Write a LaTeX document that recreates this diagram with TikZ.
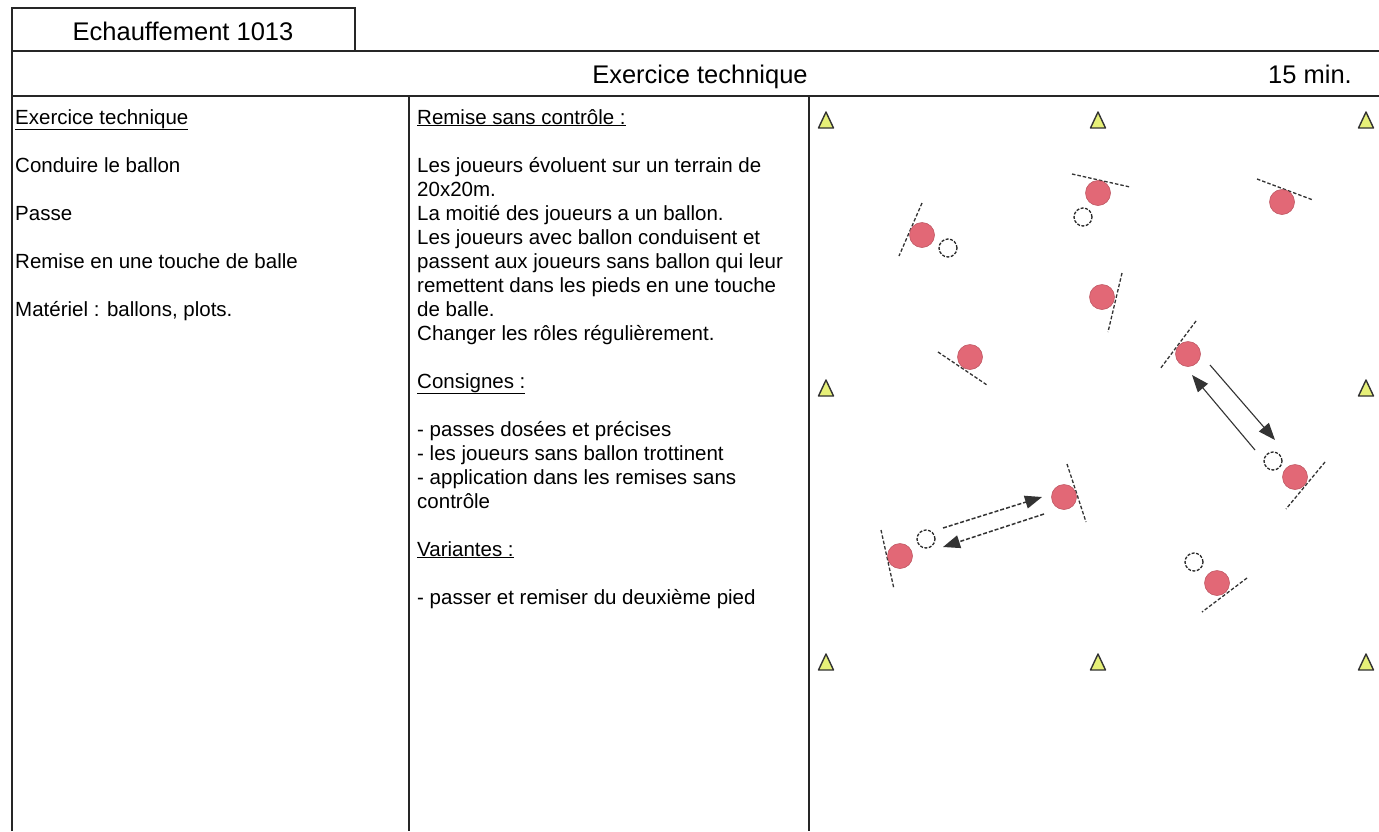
\documentclass[tikz,border=0pt]{standalone}
\usepackage{fontspec}
\setmainfont{Liberation Sans}
\usetikzlibrary{arrows.meta}

\definecolor{plrred}{RGB}{226,104,118}
\definecolor{coneyel}{RGB}{230,240,120}

\tikzset{
  frame/.style={line width=1.8pt,black!85},
  player/.style={circle,fill=plrred,draw=plrred!85!black,line width=0.6pt,minimum size=25pt,inner sep=0pt},
  ball/.style={circle,draw=black!85,dash pattern=on 3pt off 1.5pt,line width=1.3pt,fill=white,minimum size=18pt,inner sep=0pt},
  facing/.style={black!80,line width=1.3pt,dash pattern=on 3.5pt off 2pt},
  passdash/.style={black!80,line width=1.5pt,dash pattern=on 4pt off 2pt,-{Triangle[length=17pt,width=13pt]}},
  passline/.style={black!80,line width=1.1pt,-{Triangle[length=17pt,width=13pt]}},
  cone/.style={fill=coneyel,draw=black!80,line width=1.4pt,line join=round},
  txt/.style={anchor=base west,inner sep=0pt,font=\fontsize{20.5}{24}\selectfont},
  head/.style={inner sep=0pt,font=\fontsize{25.5}{30}\selectfont},
}

\begin{document}
\begin{tikzpicture}[x=1pt,y=-1pt]
\useasboundingbox (0,0) rectangle (1379,831);
\fill[white] (0,0) rectangle (1379,831);

% form frame
\draw[frame] (12,831) -- (12,8) -- (355,8) -- (355,51);
\draw[frame] (12,51) -- (1379,51);
\draw[frame] (12,96) -- (1379,96);
\draw[frame] (409,96) -- (409,831);
\draw[frame] (809,96) -- (809,831);

% header
\node[head,anchor=base] (title) at (183,40) {Echauffement 1013};
\node[head,anchor=base] (theme) at (700,83) {Exercice technique};
\node[head,anchor=base east] (dur) at (1352,83) {15 min.};

% left column
\foreach \n/\t in {1/{\underline{Exercice technique}},3/{Conduire le ballon},5/{Passe},
    7/{Remise en une touche de balle},9/{Matériel : ballons, plots.}}
  \node[txt] (l\n) at (15,{124+(\n-1)*24}) {\t};

% middle column
\foreach \n/\t in {1/{\underline{Remise sans contrôle :}},
    3/{Les joueurs évoluent sur un terrain de},4/{20x20m.},
    5/{La moitié des joueurs a un ballon.},6/{Les joueurs avec ballon conduisent et},
    7/{passent aux joueurs sans ballon qui leur},8/{remettent dans les pieds en une touche},
    9/{de balle.},10/{Changer les rôles régulièrement.},
    12/{\underline{Consignes :}},
    14/{- passes dosées et précises},15/{- les joueurs sans ballon trottinent},
    16/{- application dans les remises sans},17/{contrôle},
    19/{\underline{Variantes :}},
    21/{- passer et remiser du deuxième pied}}
  \node[txt] (m\n) at (417,{124+(\n-1)*24}) {\t};

% cones
\foreach \x/\y in {826/121,1098/121,1366/121,826/389,1366/389,826/663,1098/663,1366/663}
  \draw[cone] (\x-7.5,\y+7) -- (\x+7.5,\y+7) -- (\x,\y-9) -- cycle;

% facing lines
\draw[facing] (922,203) -- (899,256);
\draw[facing] (1072,174) -- (1130,187);
\draw[facing] (1257,179) -- (1313,200);
\draw[facing] (1122,273) -- (1108,332);
\draw[facing] (938,352) -- (987,385);
\draw[facing] (1196,321) -- (1160,369);
\draw[facing] (1325,462) -- (1286,509);
\draw[facing] (1247,578) -- (1202,612);
\draw[facing] (1067,464) -- (1086,522);
\draw[facing] (881,530) -- (894,589);

% players and balls
\node[player] (p1) at (922,235) {};
\node[player] (p2) at (1098,193) {};
\node[player] (p3) at (1282,202) {};
\node[player] (p4) at (1102,297) {};
\node[player] (p5) at (970,357) {};
\node[player] (p6) at (1188,354) {};
\node[player] (p7) at (1295,477) {};
\node[player] (p8) at (1217,583) {};
\node[player] (p9) at (1064,497) {};
\node[player] (p10) at (900,556) {};
\node[ball] (b1) at (948,248) {};
\node[ball] (b2) at (1083,217) {};
\node[ball] (b7) at (1273,461) {};
\node[ball] (b8) at (1194,562) {};
\node[ball] (b10) at (926,539) {};

% passes
\coordinate (a1s) at (943,528);
\coordinate (a1e) at (1042,497);
\coordinate (a2s) at (1044,514);
\coordinate (a2e) at (943,547);
\coordinate (a3s) at (1210,365);
\coordinate (a3e) at (1275,440);
\coordinate (a4s) at (1255,450);
\coordinate (a4e) at (1192,375);
\draw[passdash] (a1s) -- (a1e);
\draw[passdash] (a2s) -- (a2e);
\draw[passline] (a3s) -- (a3e);
\draw[passline] (a4s) -- (a4e);
\end{tikzpicture}
\end{document}
